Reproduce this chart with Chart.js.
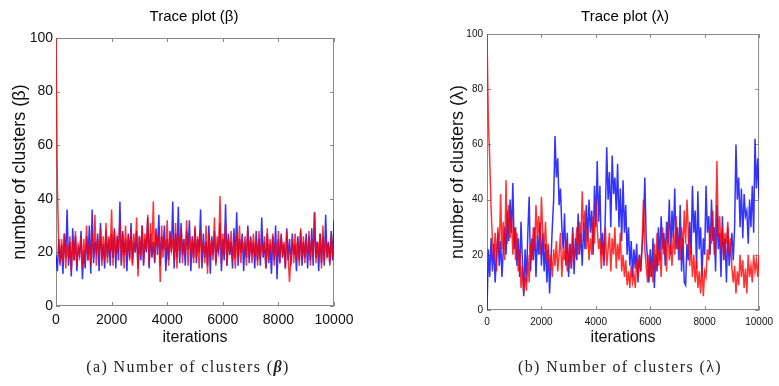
<!DOCTYPE html>
<html>
<head>
<meta charset="utf-8">
<script src="https://cdn.jsdelivr.net/npm/chart.js@4.4.1/dist/chart.umd.min.js"></script>
<style>
  html,body{margin:0;padding:0;background:#fff;}
  #fig{position:relative;width:779px;height:386px;overflow:hidden;}
  canvas{position:absolute;top:0;}
  .ttl{position:absolute;top:7px;font:15px 'Liberation Sans',Arial,sans-serif;color:#000;white-space:nowrap;transform:translateX(-50%);}
  .cap{position:absolute;top:358px;font:16px 'Liberation Serif','DejaVu Serif',serif;color:#222;white-space:nowrap;transform:translateX(-50%);letter-spacing:1.4px;}
</style>
</head>
<body>
<div id="fig">
  <canvas id="ch-beta" width="390" height="386" style="left:0"></canvas>
  <canvas id="ch-lambda" width="389" height="386" style="left:390px"></canvas>
  <div class="ttl" style="left:194px">Trace plot (β)</div>
  <div class="ttl" style="left:625px">Trace plot (λ)</div>
  <div class="cap" style="left:188px">(a) Number of clusters (<b><i>β</i></b>)</div>
  <div class="cap" style="left:620px">(b) Number of clusters (λ)</div>
</div>
<script>
/* ---------- data (one sample every 50 iterations) ---------- */
const STEP=50;
const X_TICKS=[0,2000,4000,6000,8000,10000];
const Y_TICKS=[0,20,40,60,80,100];

// trace plot (beta)
const betaBlue=[
  19,13,25,16,23,12,27,18,36,15,24,11,29,17,26,13,22,19,28,10,21,
  14,26,17,30,12,36,16,24,20,27,13,31,17,23,14,28,18,25,15,27,
  18,29,14,26,17,39,15,28,19,25,13,27,18,31,16,24,20,28,14,26,
  17,30,15,25,20,33,14,27,18,24,16,29,19,34,15,26,21,30,13,25,
  17,28,20,39,14,27,18,37,16,31,19,25,15,28,21,32,13,26,18,29,
  16,25,20,36,14,27,18,24,15,30,12,26,19,28,16,23,20,31,13,25,
  17,38,15,27,19,24,14,29,18,35,15,25,20,27,13,24,18,30,16,26,
  19,24,14,28,17,25,15,33,18,24,14,27,16,23,12,26,17,30,10,25,
  16,27,18,23,14,29,17,25,15,27,19,23,13,26,17,28,15,24,18,27,
  14,26,17,29,15,35,18,24,13,27,16,26,15,34,18,24,16,28,17,32
];
const betaRed=[
  100,44,21,15,25,17,27,14,23,18,26,13,24,17,28,15,22,19,26,14,25,
  16,30,17,24,15,27,18,34,15,25,19,29,15,26,17,31,16,26,20,36,
  15,28,18,25,21,32,16,27,14,30,19,26,17,29,15,27,20,33,11,26,
  19,30,16,27,21,34,15,31,19,39,17,28,22,26,9,30,18,25,20,32,
  15,27,21,25,17,31,14,26,20,29,16,25,19,32,15,27,21,24,16,30,
  18,26,14,28,20,24,16,30,12,27,19,25,17,33,15,26,21,41,16,27,
  19,31,15,25,20,28,17,24,14,27,18,30,16,24,20,26,15,29,18,25,
  16,27,19,24,15,28,18,23,20,26,14,29,17,25,19,27,15,24,18,28,
  16,26,20,24,14,28,18,9,19,25,16,27,20,24,15,29,18,26,16,23,
  19,28,15,25,18,35,16,24,20,27,14,30,17,25,19,23,15,27,18,22
];

// trace plot (lambda)
const lambdaBlue=[
  0,22,12,26,14,24,10,20,28,16,25,12,22,30,20,36,25,40,28,46,22,
  30,16,26,12,32,18,5,22,10,28,41,14,26,18,30,12,27,20,32,16,
  28,14,24,10,22,6,18,30,40,63,48,55,38,44,30,22,35,16,28,12,
  24,15,30,13,26,18,35,20,28,16,32,22,38,25,40,28,36,20,45,30,
  54,32,45,20,28,16,35,59,40,50,30,56,42,48,36,53,30,44,25,47,
  28,38,20,30,16,25,12,22,15,24,10,20,14,23,30,48,26,18,10,22,
  12,26,8,20,14,30,18,34,22,28,16,32,24,40,20,36,26,44,22,30,
  18,38,14,26,10,9,24,18,32,20,45,28,36,15,43,22,30,12,26,20,
  45,28,34,20,40,25,30,14,38,22,28,12,34,18,26,10,30,16,22,28,
  18,30,60,40,48,30,44,26,42,34,36,24,40,30,45,28,62,44,55,40
];
const lambdaRed=[
  100,68,55,37,25,18,28,14,30,20,42,22,32,18,47,24,38,26,35,20,30,
  18,28,14,22,8,16,6,12,7,20,10,24,18,30,22,38,26,34,20,41,
  28,22,32,18,24,14,20,12,22,16,25,14,20,28,12,22,18,26,14,20,
  24,15,28,18,22,30,20,32,24,43,28,36,22,30,18,26,20,34,24,40,
  30,22,26,15,24,18,30,16,22,28,14,26,20,30,15,24,18,28,14,20,
  12,18,9,14,8,16,10,13,8,18,12,20,14,24,40,22,16,10,20,12,
  18,10,24,14,28,16,22,12,30,20,26,14,32,18,24,16,28,20,34,22,
  26,18,30,22,36,24,40,28,16,24,12,20,10,18,8,14,6,16,5,14,
  12,22,18,30,24,36,20,28,54,26,34,22,30,18,28,24,32,20,26,15,
  10,16,6,14,9,20,12,18,8,15,6,20,12,16,10,20,14,18,12,20
];

/* ---------- helpers ---------- */
const SANS='Liberation Sans, Arial, sans-serif';
const toXY=arr=>arr.map((v,i)=>({x:i*STEP,y:v}));

// matlab-like box with inward ticks on all four sides (drawn under the traces)
const boxPlugin={
  id:'box',
  beforeDatasetsDraw(chart){
    const {ctx,chartArea:a,scales:{x,y}}=chart;
    ctx.save();
    ctx.strokeStyle='#8a8a8a';ctx.lineWidth=1;
    ctx.strokeRect(a.left+0.5,a.top+0.5,a.right-a.left-1,a.bottom-a.top-1);
    ctx.beginPath();
    X_TICKS.forEach(t=>{const px=Math.round(x.getPixelForValue(t))+0.5;
      ctx.moveTo(px,a.bottom);ctx.lineTo(px,a.bottom-4);ctx.moveTo(px,a.top);ctx.lineTo(px,a.top+4);});
    Y_TICKS.forEach(t=>{const py=Math.round(y.getPixelForValue(t))+0.5;
      ctx.moveTo(a.left,py);ctx.lineTo(a.left+4,py);ctx.moveTo(a.right,py);ctx.lineTo(a.right-4,py);});
    ctx.stroke();
    ctx.restore();
  }
};

function traceChart(id,blue,red,o){
  return new Chart(document.getElementById(id),{
    type:'line',
    data:{datasets:[
      {data:toXY(red),borderColor:'rgba(255,0,0,0.8)',borderWidth:o.lw,pointRadius:0,tension:0,order:1},
      {data:toXY(blue),borderColor:'rgba(0,0,255,0.8)',borderWidth:o.lw,pointRadius:0,tension:0,order:2}
    ]},
    options:{
      responsive:false,animation:false,
      layout:{padding:o.pad},
      plugins:{legend:{display:false},tooltip:{enabled:false}},
      scales:{
        x:{type:'linear',min:0,max:10000,
          afterBuildTicks:s=>{s.ticks=X_TICKS.map(v=>({value:v}));},
          afterFit:s=>{s.height=o.xh;},
          grid:{drawOnChartArea:false,drawTicks:false},border:{display:false},
          ticks:{color:'#111',font:{family:SANS,size:o.tick},padding:o.xtp,maxRotation:0,callback:v=>String(v)},
          title:{display:true,text:'iterations',color:'#111',font:{family:SANS,size:16},padding:9}},
        y:{min:0,max:100,
          afterBuildTicks:s=>{s.ticks=Y_TICKS.map(v=>({value:v}));},
          afterFit:s=>{s.width=o.yw;},
          grid:{drawOnChartArea:false,drawTicks:false},border:{display:false},
          ticks:{color:'#111',font:{family:SANS,size:o.tick},padding:o.ytp,callback:v=>String(v)},
          title:{display:true,text:o.ytitle,color:'#111',font:{family:SANS,size:18},padding:o.ytitlePad}}
      }
    },
    plugins:[boxPlugin]
  });
}

traceChart('ch-beta',betaBlue,betaRed,{
  pad:{left:0,top:38,right:56,bottom:30},xh:50,yw:56,tick:14,xtp:6,ytp:3,ytitlePad:9,lw:1.5,
  ytitle:'number of clusters (β)'
});
traceChart('ch-lambda',lambdaBlue,lambdaRed,{
  pad:{left:50,top:34,right:13,bottom:30},xh:46,yw:47,tick:10,xtp:6,ytp:4,ytitlePad:7,lw:1.5,
  ytitle:'number of clusters (λ)'
});
</script>
</body>
</html>
